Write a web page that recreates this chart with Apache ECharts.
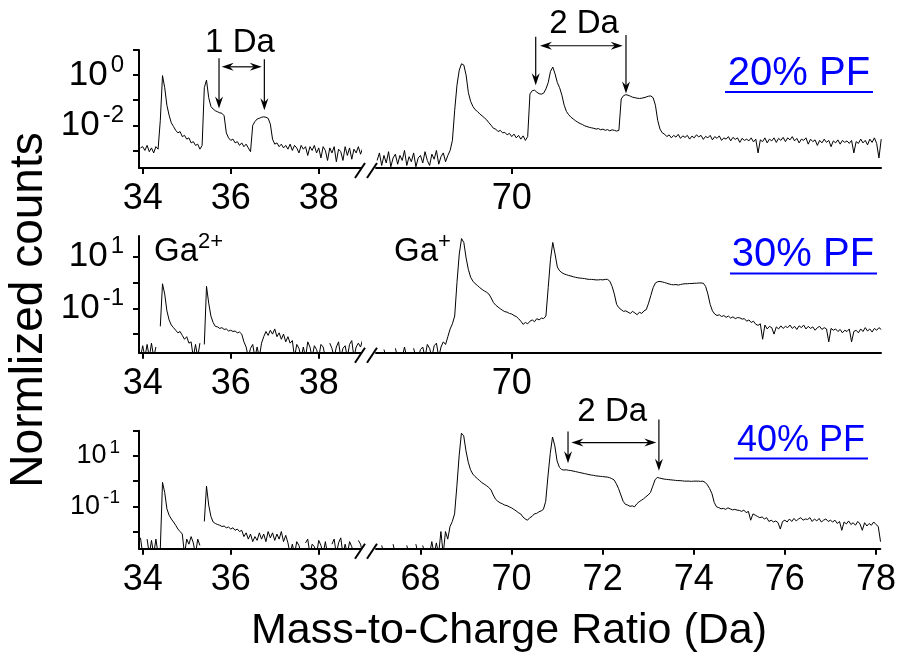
<!DOCTYPE html>
<html><head><meta charset="utf-8">
<script src="https://cdn.jsdelivr.net/npm/echarts@6/dist/echarts.min.js"></script>
<style>html,body{margin:0;padding:0;background:#fff}#c{width:899px;height:659px}</style>
</head><body><div id="c"></div>
<script>
const FONT = 'Liberation Sans, Arial, Helvetica, sans-serif';
// m/z sampling grid (Da)
const STEP = 0.05;
const LEFT_START = 33.95;   // Ga2+ window
const RIGHT_START = 67.05;  // Ga+ window
// x tick labels
const leftTicks = [34, 36, 38];
const rightTicksUpper = [70];
const rightTicksLower = [68, 70, 72, 74, 76, 78];
const panelLabels = ['20% PF', '30% PF', '40% PF'];
// log10(normalized counts); null = zero counts (gap), values below the axis floor = single counts dropping out
const p20Left = [
 -2.9,-2.85,-3.0,-2.8,-3.05,-2.9,-3.1,-2.85,-2.95,-1.8,
 -0.02,-0.5,-1.2,-1.6,-1.9,-2.05,-2.2,-2.3,-2.25,-2.45,
 -2.4,-2.55,-2.5,-2.7,-2.65,-2.8,-2.75,-2.95,-2.8,-0.5,
 -0.2,-0.9,-1.25,-1.35,-1.42,-1.46,-1.5,-1.52,-1.62,-2.3,
 -2.5,-2.6,-2.55,-2.7,-2.65,-2.8,-2.7,-2.85,-2.75,-2.9,
 -3.05,-2.0,-1.85,-1.75,-1.72,-1.68,-1.66,-1.68,-1.72,-1.95,
 -2.55,-2.75,-2.7,-2.85,-2.75,-2.9,-2.8,-2.95,-2.75,-3.0,
 -2.8,-2.9,-3.1,-2.8,-2.95,-2.85,-3.2,-2.85,-3.0,-2.8,
 -3.1,-2.9,-3.3,-2.85,-3.0,-3.4,-2.9,-3.1,-2.85,-3.45,
 -2.95,-3.05,-3.4,-2.85,-3.2,-2.9,-3.35,-2.95,-3.1,-2.85,
 -3.15,-2.9
];
const p20Right = [
 -3.4,-3.1,-3.6,-3.2,-3.5,-3.05,-3.65,-3.3,-3.15,-3.55,
 -3.2,-3.4,-3.0,-3.6,-3.25,-3.45,-3.1,-3.65,-3.3,-3.2,
 -3.5,-3.05,-3.4,-3.6,-3.15,-3.35,-3.0,-3.55,-3.25,-3.1,
 -3.45,-3.2,-3.0,-2.6,-1.4,-0.4,0.2,0.45,0.4,0.0,
 -0.7,-1.05,-1.25,-1.38,-1.45,-1.55,-1.62,-1.7,-1.78,-1.9,
 -2.0,-2.12,-2.15,-2.25,-2.2,-2.3,-2.28,-2.38,-2.32,-2.45,
 -2.35,-2.5,-2.4,-2.55,-2.42,-2.6,-2.45,-0.75,-0.62,-0.6,
 -0.68,-0.74,-0.76,-0.72,-0.55,-0.3,0.15,0.32,0.05,-0.3,
 -0.5,-0.8,-1.2,-1.45,-1.58,-1.68,-1.75,-1.82,-1.88,-1.93,
 -1.97,-2.02,-2.05,-2.08,-2.1,-2.12,-2.15,-2.13,-2.18,-2.15,
 -2.2,-2.17,-2.22,-2.18,-2.2,-2.23,-2.2,-0.95,-0.82,-0.78,
 -0.8,-0.84,-0.88,-0.9,-0.92,-0.93,-0.92,-0.9,-0.87,-0.84,
 -0.83,-0.9,-1.2,-1.8,-2.15,-2.3,-2.35,-2.45,-2.38,-2.5,
 -2.4,-2.47,-2.36,-2.52,-2.42,-2.48,-2.4,-2.55,-2.43,-2.5,
 -2.38,-2.46,-2.4,-2.56,-2.44,-2.5,-2.4,-2.58,-2.45,-2.52,
 -2.42,-2.6,-2.5,-2.55,-2.45,-2.62,-2.48,-2.56,-2.5,-2.68,
 -2.52,-2.6,-2.55,-2.62,-2.5,-2.66,-2.55,-3.1,-2.58,-2.65,
 -2.5,-2.7,-2.55,-2.62,-2.5,-2.68,-2.52,-2.6,-2.48,-2.65,
 -2.5,-2.58,-2.45,-2.62,-2.52,-2.7,-2.55,-2.6,-2.5,-2.75,
 -2.55,-2.65,-2.58,-2.8,-2.6,-2.7,-2.55,-2.68,-2.6,-2.85,
 -2.62,-2.7,-2.58,-2.75,-2.6,-2.68,-2.62,-2.72,-2.6,-3.1,
 -2.65,-2.72,-2.55,-2.7,-2.6,-2.78,-2.55,-2.68,-2.5,-2.72,
 -3.3,-2.55
];
const p30Left = [
 -2.9,-2.45,-2.9,-2.4,-2.9,-2.35,-2.9,-2.5,null,-1.7,
 -0.05,-0.45,-1.1,-1.45,-1.65,-1.75,-1.85,-1.95,-1.9,-2.05,
 -2.2,-2.1,-2.35,-2.3,-2.9,-2.4,-2.9,-2.35,null,-2.4,
 -0.15,-0.8,-1.3,-1.55,-1.7,-1.72,-1.78,-1.75,-1.82,-1.8,
 -1.88,-1.85,-1.9,-1.88,-1.95,-1.92,-2.0,-2.3,-2.5,-2.9,
 -2.55,-2.4,-2.9,-2.5,-2.9,-2.35,-2.1,-1.9,-2.05,-1.85,
 -2.0,-1.8,-2.1,-1.95,-2.2,-2.0,-2.3,-2.1,-2.35,-2.25,
 -2.9,-2.4,-2.55,-2.9,-2.5,-2.9,-2.3,-2.5,-2.9,-2.45,
 -2.6,-2.9,-2.4,-2.5,-2.9,null,-2.35,-2.55,-2.9,-2.5,
 -2.3,-2.9,-2.55,-2.45,-2.9,-2.4,-2.25,-2.9,-2.5,-2.35,
 -2.5,-2.2
];
const p30Right = [
 null,null,null,-2.6,-2.9,null,null,null,-2.55,-2.9,
 null,-2.9,-2.5,-2.9,null,null,-2.55,-2.9,-2.9,-2.6,
 -2.5,-2.9,-2.4,-2.55,-2.9,-2.45,-2.35,-2.9,-2.5,-2.3,
 -2.4,-2.1,-1.8,-1.6,-1.3,0.0,1.1,1.7,1.55,0.95,
 0.5,0.2,0.05,-0.05,-0.12,-0.2,-0.27,-0.33,-0.38,-0.45,
 -0.6,-0.78,-0.88,-0.95,-1.02,-1.08,-1.13,-1.15,-1.2,-1.22,
 -1.28,-1.32,-1.4,-1.5,-1.62,-1.55,-1.6,-1.5,-1.45,-1.52,
 -1.4,-1.45,-1.38,-1.4,-1.3,-0.2,0.9,1.55,1.1,0.6,
 0.45,0.38,0.33,0.3,0.27,0.25,0.22,0.2,0.18,0.17,
 0.16,0.15,0.13,0.12,0.12,0.11,0.1,0.1,0.11,0.1,
 0.12,0.12,0.05,-0.15,-0.45,-0.85,-0.98,-1.05,-1.12,-1.1,
 -1.15,-1.2,-1.12,-1.18,-1.25,-1.15,-1.2,-1.1,-1.05,-0.8,
 -0.5,-0.2,-0.02,0.03,0.04,0.02,0.0,-0.03,-0.06,-0.08,
 -0.09,-0.08,-0.1,-0.08,-0.06,-0.05,-0.05,-0.04,-0.04,-0.03,
 -0.03,-0.02,-0.02,-0.03,-0.15,-0.45,-0.85,-1.1,-1.22,-1.28,
 -1.25,-1.32,-1.28,-1.35,-1.3,-1.38,-1.33,-1.4,-1.36,-1.37,
 -1.42,-1.4,-1.5,-1.45,-1.55,-1.5,-1.62,-1.66,-1.6,-2.2,
 -1.65,-1.8,-1.7,-1.75,-2.0,-1.72,-1.8,-1.68,-1.78,-1.7,
 -1.75,-1.65,-1.78,-1.7,-1.82,-1.68,-1.75,-1.65,-1.8,-1.7,
 -1.78,-1.72,-1.85,-1.75,-1.7,-1.82,-1.75,-1.8,-2.3,-1.78,
 -1.85,-1.8,-1.9,-1.82,-1.95,-1.85,-1.9,-1.8,-2.3,-1.9,
 -1.85,-1.95,-1.8,-1.9,-1.75,-1.88,-1.8,-1.92,-1.78,-1.85,
 -1.75,-1.82
];
const p40Left = [
 -2.25,-2.9,null,-2.3,-2.9,-2.35,-2.9,-2.3,-2.9,-2.68,
 -0.05,-0.45,-1.1,-1.35,-1.5,-1.62,-1.75,-1.9,-2.0,-2.1,
 -2.9,-2.3,-2.5,-2.2,-2.45,-2.9,-2.3,-2.55,null,-1.6,
 -0.2,-0.95,-1.4,-1.62,-1.68,-1.72,-1.75,-1.8,-1.78,-1.85,
 -1.82,-1.9,-1.85,-1.95,-1.9,-2.0,-1.95,-2.2,-2.05,-2.3,
 -2.1,-2.4,-2.2,-2.35,-2.05,-2.3,-2.1,-2.4,-2.0,-2.25,
 -2.05,-2.35,-2.1,-2.3,-2.0,-2.4,-2.15,-2.45,-2.9,-2.5,
 -2.9,-2.4,-2.55,-2.9,null,-2.45,-2.3,-2.9,-2.5,-2.6,
 -2.9,-2.35,-2.55,-2.9,-2.4,-2.9,null,-2.5,-2.3,-2.9,
 -2.45,-2.25,-2.9,-2.5,-2.9,-2.4,-2.6,-2.9,null,-2.35,
 -2.5,-2.9
];
const p40Right = [
 null,null,-2.55,-2.9,null,null,null,-2.5,-2.9,null,
 null,null,null,-2.55,-2.9,null,null,-2.5,-2.9,null,
 -2.55,-2.9,null,-2.9,-2.4,-2.9,-2.45,-2.9,-2.0,-2.9,
 -2.0,-2.3,-1.8,-1.6,-1.3,-0.2,1.0,1.9,1.8,1.2,
 0.75,0.45,0.28,0.18,0.1,0.02,-0.06,-0.12,-0.18,-0.25,
 -0.35,-0.55,-0.72,-0.8,-0.86,-0.9,-0.95,-0.97,-1.02,-1.06,
 -1.12,-1.18,-1.25,-1.3,-1.42,-1.5,-1.55,-1.45,-1.4,-1.3,
 -1.28,-1.22,-1.18,-1.12,-0.8,0.2,1.1,1.75,1.4,0.8,
 0.55,0.46,0.44,0.45,0.43,0.42,0.4,0.38,0.36,0.34,
 0.32,0.3,0.28,0.26,0.24,0.23,0.21,0.2,0.19,0.18,
 0.17,0.16,0.14,0.1,0.05,-0.1,-0.3,-0.55,-0.8,-0.92,
 -0.95,-1.0,-0.98,-1.02,-0.9,-0.82,-0.76,-0.7,-0.62,-0.55,
 -0.45,-0.2,0.05,0.15,0.12,0.1,0.08,0.07,0.06,0.05,
 0.04,0.03,0.02,0.02,0.01,0.0,0.0,0.0,-0.01,0.0,
 0.0,0.0,-0.01,0.0,-0.05,-0.15,-0.3,-0.5,-0.85,-1.02,
 -1.05,-1.1,-1.08,-1.12,-1.06,-1.1,-1.14,-1.12,-1.15,-1.16,
 -1.2,-1.15,-1.25,-1.2,-1.55,-1.3,-1.35,-1.4,-1.45,-1.42,
 -1.5,-1.45,-1.6,-1.55,-1.62,-1.58,-1.65,-1.9,-1.6,-1.55,
 -1.62,-1.5,-1.6,-1.48,-1.58,-1.5,-1.45,-1.55,-1.5,-1.52,
 -1.45,-1.6,-1.5,-1.58,-1.48,-1.62,-1.55,-1.5,-1.6,-1.55,
 -1.62,-1.55,-1.68,-1.6,-1.95,-1.62,-1.7,-1.58,-1.72,-1.65,
 -1.75,-1.6,-1.7,-1.95,-1.65,-1.78,-1.68,-1.75,-1.62,-1.72,
 -1.8,-2.4
];
// y axis ranges (log10) and decade ticks/labels per panel
const yExtent = [[-3.7, 1], [-2.72, 1.8], [-2.68, 2]];
const yTickDecades = [[-3, -2, -1, 0, 1], [-2, -1, 0, 1], [-2, -1, 0, 1, 2]];
const yLabelDecades = [[-2, 0], [-1, 1], [-1, 1]];
// annotation arrows in data space (Da, log10 counts)
const vArrows = [
  {g: 0, x: 35.734, from: 0.67, to: -1.33}, {g: 0, x: 36.764, from: 0.63, to: -1.4},
  {g: 1, x: 70.526, from: 1.53, to: -0.4}, {g: 1, x: 72.505, from: 1.6, to: -0.73},
  {g: 5, x: 71.24, from: 1.97, to: 0.71}, {g: 5, x: 73.235, from: 2.44, to: 0.41}
];
const hArrows = [
  {g: 0, x0: 35.795, x1: 36.705, y: 0.33},
  {g: 1, x0: 70.62, x1: 72.433, y: 1.17},
  {g: 5, x0: 71.315, x1: 73.178, y: 1.53}
];
const spanTexts = [
  {g: 0, x: 36.21, y: 1.3, text: '1 Da'},
  {g: 1, x: 71.585, y: 2.04, text: '2 Da'},
  {g: 5, x: 72.21, y: 2.74, text: '2 Da'}
];

// ---- layout ----
const panelTop = [50, 236, 430.7];
const panelH = [118, 116.7, 118];
const LEFT_GRID = {left: 139, width: 222, min: 33.916, max: 38.96};
const RIGHT_GRID = {left: 376, width: 505, min: 67.025, max: 78.095};

const dataSets = [[p20Left, p20Right], [p30Left, p30Right], [p40Left, p40Right]];
function toPairs(start, exps) {
  return exps.map((e, i) => [+(start + i * STEP).toFixed(2), e == null ? null : Math.pow(10, e)]);
}
const grids = [], xAxes = [], yAxes = [], series = [];
for (let p = 0; p < 3; p++) {
  for (let s = 0; s < 2; s++) {
    const G = s === 0 ? LEFT_GRID : RIGHT_GRID;
    const gi = p * 2 + s;
    grids.push({left: G.left, width: G.width, top: panelTop[p], height: panelH[p]});
    const xt = s === 0 ? leftTicks : (p === 2 ? rightTicksLower : rightTicksUpper);
    xAxes.push({
      type: 'value', gridIndex: gi, min: G.min, max: G.max,
      axisLine: {show: true, onZero: false, lineStyle: {color: '#000', width: 2}},
      axisTick: {show: true, length: 6, lineStyle: {color: '#000', width: 2}, customValues: xt},
      axisLabel: {customValues: xt, fontSize: 36, color: '#000', fontFamily: FONT, margin: 13},
      splitLine: {show: false}
    });
    const small = p === 2;
    yAxes.push({
      type: 'log', logBase: 10, gridIndex: gi, show: s === 0,
      min: Math.pow(10, yExtent[p][0]), max: Math.pow(10, yExtent[p][1]),
      axisLine: {show: true, onZero: false, lineStyle: {color: '#000', width: 2}},
      axisTick: {show: true, length: 6, lineStyle: {color: '#000', width: 2},
                 customValues: yTickDecades[p].map(d => Math.pow(10, d))},
      axisLabel: {
        customValues: yLabelDecades[p].map(d => Math.pow(10, d)), margin: small ? 19 : 15,
        fontSize: small ? 27 : 35, fontFamily: FONT, color: '#000',
        formatter: v => '{b|10}{s|' + Math.round(Math.log10(v)) + '}',
        rich: {
          b: {fontSize: small ? 27 : 35, lineHeight: small ? 36 : 44, fontFamily: FONT, color: '#000', padding: [0, 3, 0, 0]},
          s: {fontSize: small ? 19 : 24, lineHeight: small ? 18 : 23, verticalAlign: 'top', fontFamily: FONT, color: '#000'}
        }
      },
      splitLine: {show: false}
    });
    series.push({
      type: 'line', xAxisIndex: gi, yAxisIndex: gi, showSymbol: false, symbol: 'none',
      data: toPairs(s === 0 ? LEFT_START : RIGHT_START, dataSets[p][s]),
      lineStyle: {color: '#000', width: 1}, silent: true, animation: false, clip: true
    });
  }
}

const chart = echarts.init(document.getElementById('c'));
chart.setOption({
  backgroundColor: '#fff', animation: false,
  grid: grids, xAxis: xAxes, yAxis: yAxes, series: series
});

const gfx = [];
const txt = (x, y, text, size, color, extra) => Object.assign({
  type: 'text', x: x, y: y,
  style: {text: text, fontSize: size, fontFamily: FONT, fill: color || '#000',
          align: 'center', verticalAlign: 'middle', textAlign: 'center', textVerticalAlign: 'middle'}
}, extra || {});
const line = (x1, y1, x2, y2, color, w) => ({type: 'line', shape: {x1, y1, x2, y2}, style: {stroke: color || '#000', lineWidth: w || 2}});

// axis titles
gfx.push(txt(509, 631, 'Mass-to-Charge Ratio (Da)', 43));
gfx.push(txt(29, 310, 'Normlized counts', 46, '#000', {rotation: Math.PI / 2}));
// panel labels (blue, underlined)
const pfPos = [{cx: 799, cy: 74, x0: 725, x1: 873, uy: 92, fs: 40},
               {cx: 803, cy: 255, x0: 730, x1: 877, uy: 273.5, fs: 40},
               {cx: 801, cy: 441, x0: 734, x1: 868, uy: 458.5, fs: 36}];
pfPos.forEach((q, i) => {
  gfx.push(txt(q.cx, q.cy, panelLabels[i], q.fs, '#0000ff'));
  gfx.push(line(q.x0, q.uy, q.x1, q.uy, '#0000ff', 2));
});
// ion labels
const ionRich = {b: {fontSize: 33, lineHeight: 42, fontFamily: FONT, fill: '#000', color: '#000'},
                 s: {fontSize: 22, lineHeight: 21, verticalAlign: 'top', fontFamily: FONT, fill: '#000', color: '#000'}};
[['{b|Ga}{s|2+}', 154], ['{b|Ga}{s|+}', 394]].forEach(([t, x]) => {
  gfx.push({type: 'text', x: x, y: 252, style: {text: t, rich: ionRich, fontFamily: FONT,
    align: 'left', verticalAlign: 'middle', textAlign: 'left', textVerticalAlign: 'middle'}});
});
// axis breaks
for (let p = 0; p < 3; p++) {
  const ay = panelTop[p] + panelH[p];
  [360, 372].forEach(cx => gfx.push(line(cx - 5, ay + 10, cx + 5, ay - 5, '#000', 2)));
}
// annotations in data coordinates
const px = (g, x, e) => chart.convertToPixel({gridIndex: g}, [x, Math.pow(10, e)]);
const head = (tx, ty, dx, dy) => {
  const L = 12, W = 4, nx = -dy, ny = dx;
  const bx = tx - dx * L, by = ty - dy * L, mx = tx - dx * 8, my = ty - dy * 8;
  return {type: 'polygon', shape: {points: [[tx, ty], [bx + nx * W, by + ny * W], [mx, my], [bx - nx * W, by - ny * W]]},
          style: {fill: '#000'}};
};
vArrows.forEach(a => {
  const p0 = px(a.g, a.x, a.from), p1 = px(a.g, a.x, a.to);
  gfx.push(line(p0[0], p0[1], p1[0], p1[1] - 6, '#000', 1.2));
  gfx.push(head(p1[0], p1[1], 0, 1));
});
hArrows.forEach(a => {
  const p0 = px(a.g, a.x0, a.y), p1 = px(a.g, a.x1, a.y);
  gfx.push(line(p0[0] + 6, p0[1], p1[0] - 6, p1[1], '#000', 1.2));
  gfx.push(head(p0[0], p0[1], -1, 0));
  gfx.push(head(p1[0], p1[1], 1, 0));
});
spanTexts.forEach(t => {
  const q = px(t.g, t.x, t.y);
  gfx.push(txt(q[0], q[1], t.text, 33));
});
chart.setOption({graphic: gfx});
</script>
</body></html>
